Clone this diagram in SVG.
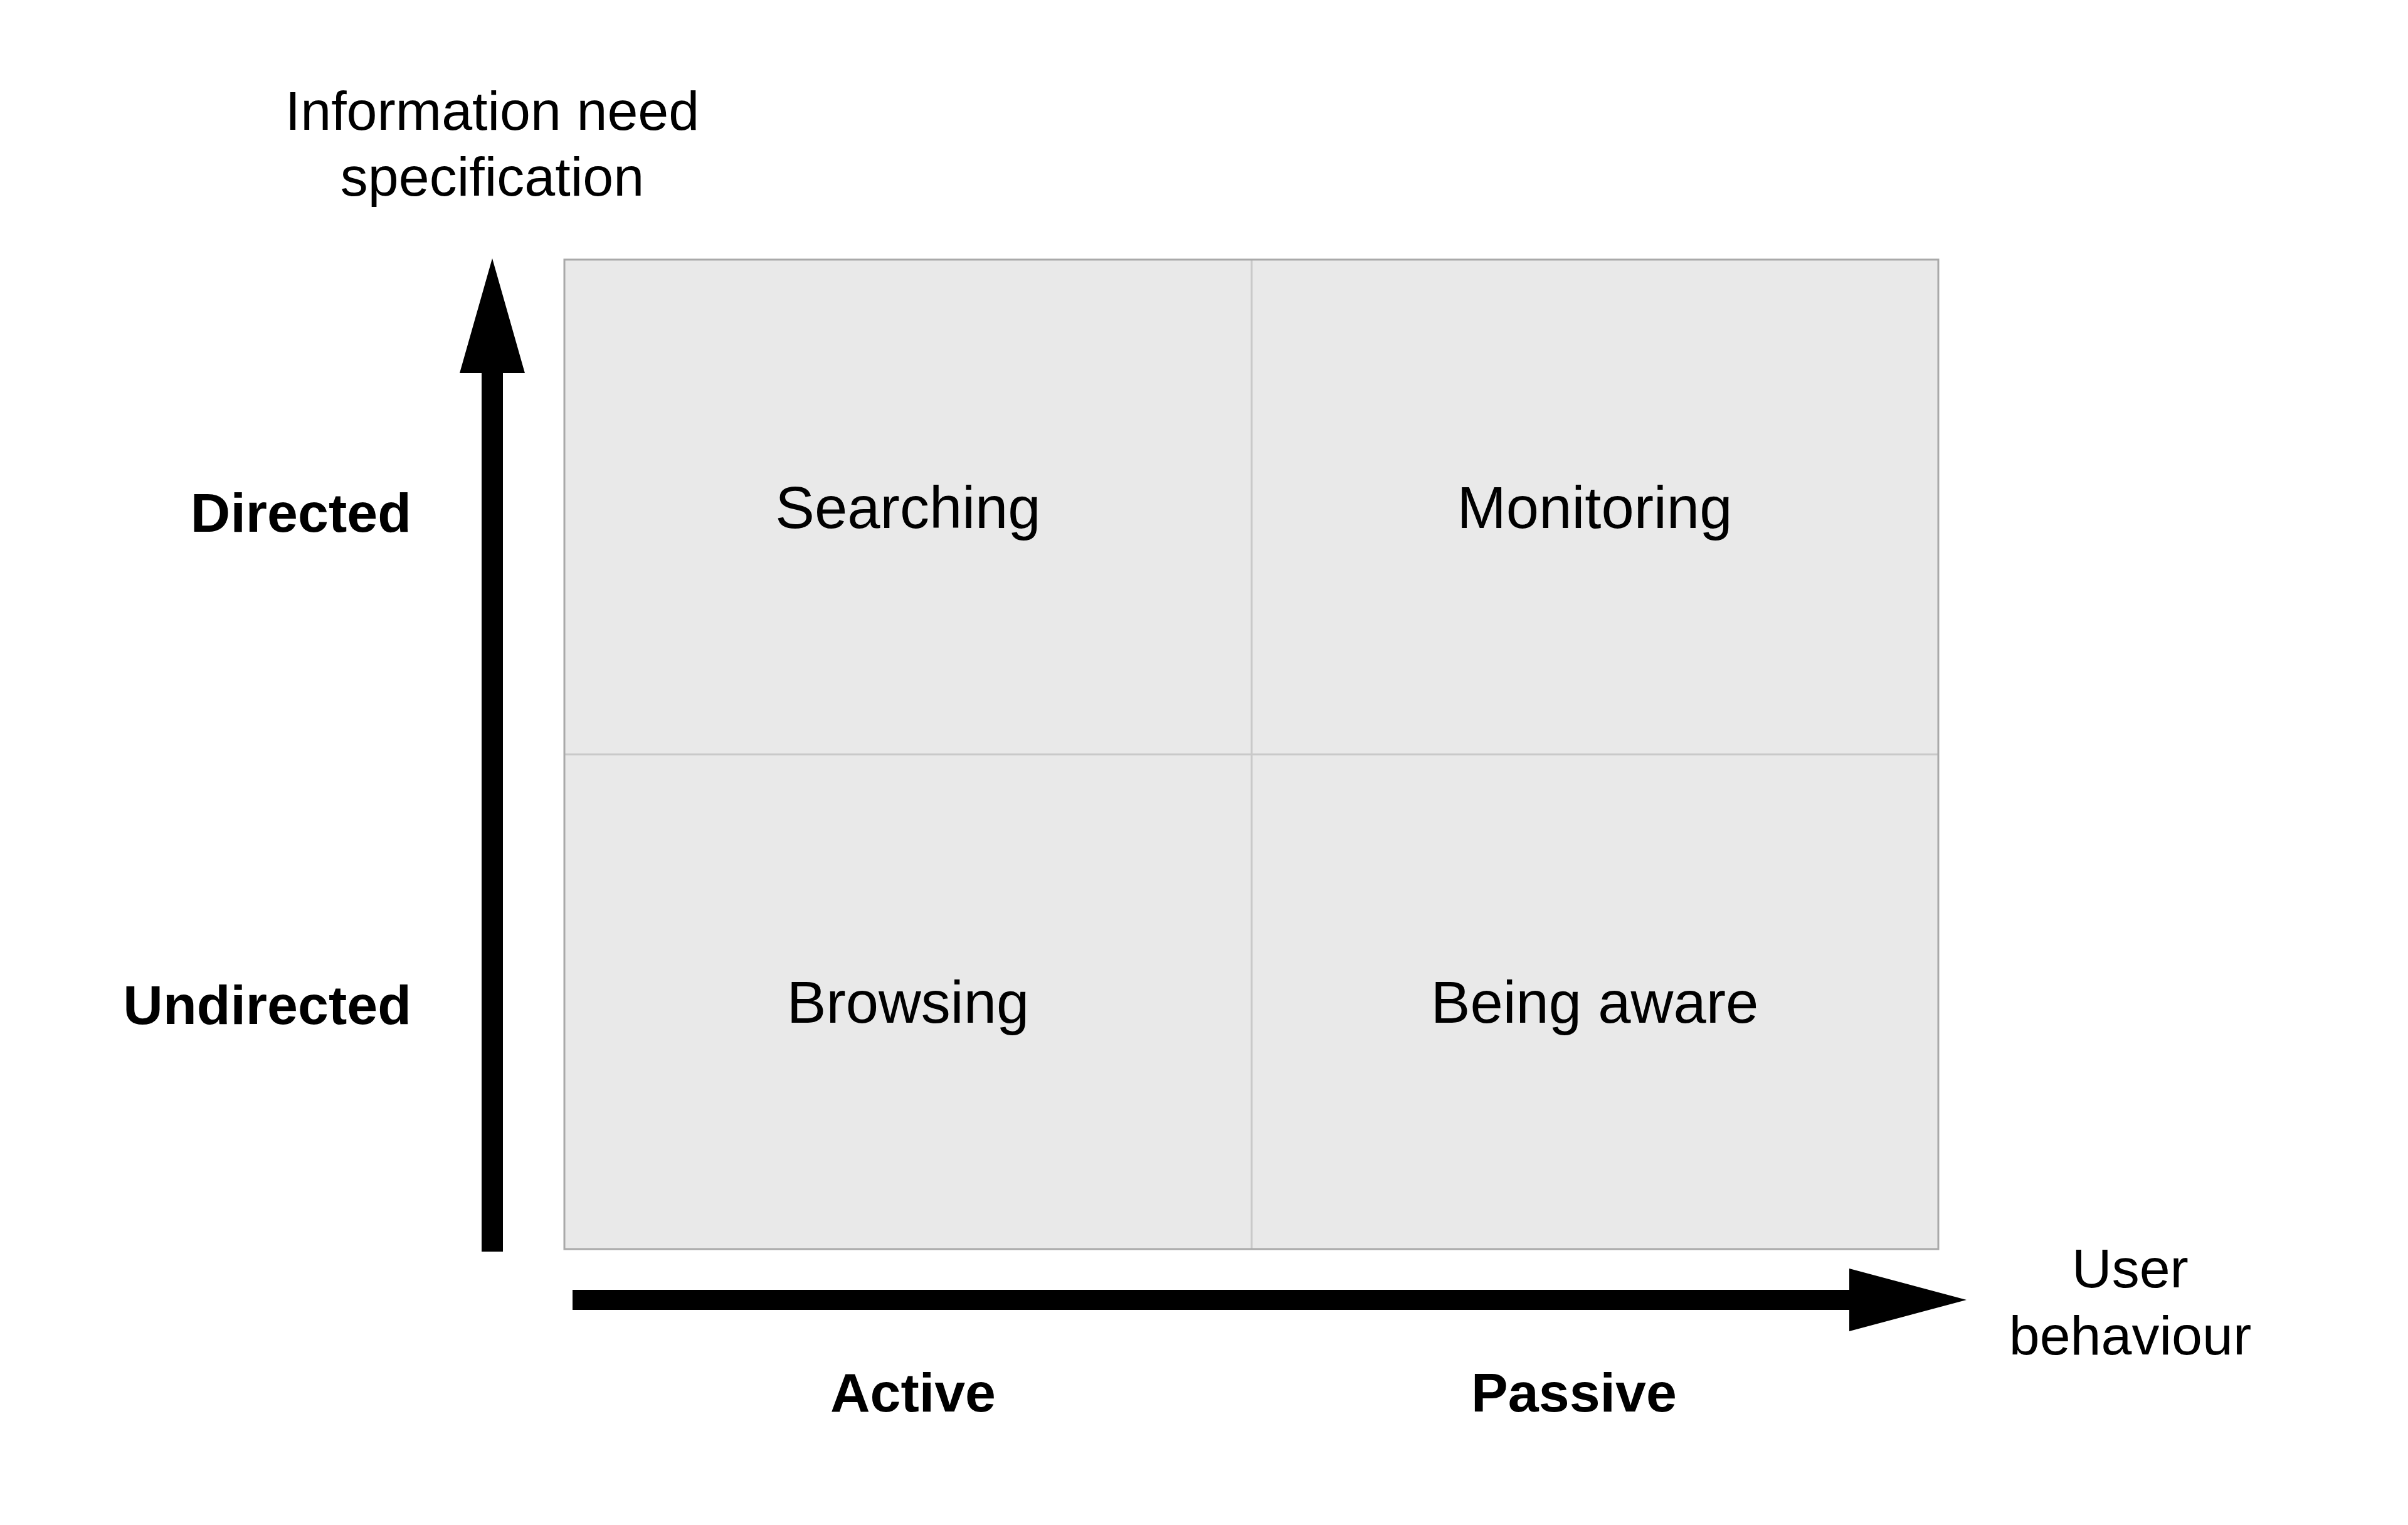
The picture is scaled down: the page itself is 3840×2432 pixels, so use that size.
<svg xmlns="http://www.w3.org/2000/svg" width="3840" height="2432" viewBox="0 0 3840 2432">
<style>
text{font-family:"Liberation Sans",Arial,Helvetica,sans-serif;fill:#000}
.ax{font-size:88px}
.b{font-size:88px;font-weight:bold}
.q{font-size:94px;text-anchor:middle}
.cell{fill:#e9e9e9;stroke:none}
.grid{stroke:#c9c9c9;stroke-width:3;fill:none}
.arrow{fill:#000;stroke:none}
</style>
<rect width="3840" height="2432" fill="#fff"/>
<g id="quadrants">
<g id="searching"><rect class="cell" x="900" y="414" width="1096" height="789"/><text class="q" x="1448" y="842">Searching</text></g>
<g id="monitoring"><rect class="cell" x="1996" y="414" width="1095" height="789"/><text class="q" x="2543" y="842">Monitoring</text></g>
<g id="browsing"><rect class="cell" x="900" y="1203" width="1096" height="789"/><text class="q" x="1448" y="1631">Browsing</text></g>
<g id="being-aware"><rect class="cell" x="1996" y="1203" width="1095" height="789"/><text class="q" x="2543" y="1631">Being aware</text></g>
<line class="grid" x1="1996" y1="414" x2="1996" y2="1992"/>
<line class="grid" x1="900" y1="1203" x2="3091" y2="1203"/>
<rect x="900" y="414" width="2191" height="1578" fill="none" stroke="#a9a9a9" stroke-width="3"/>
</g>
<g id="connectors">
<polygon class="arrow" points="768,1996 768,595 733,595 785,412 837,595 802,595 802,1996"/>
<polygon class="arrow" points="913,2057 2949,2057 2949,2023 3136,2073 2949,2123 2949,2089 913,2089"/>
</g>
<g id="y-axis-label"><text class="ax" text-anchor="middle" x="785" y="207">Information need</text><text class="ax" text-anchor="middle" x="785" y="312">specification</text></g>
<g id="x-axis-label"><text class="ax" text-anchor="middle" x="3397" y="2053">User</text><text class="ax" text-anchor="middle" x="3397" y="2160">behaviour</text></g>
<g id="directed"><text class="b" text-anchor="end" x="656" y="848">Directed</text></g>
<g id="undirected"><text class="b" text-anchor="end" x="656" y="1633">Undirected</text></g>
<g id="active"><text class="b" text-anchor="middle" x="1456" y="2251">Active</text></g>
<g id="passive"><text class="b" text-anchor="middle" x="2510" y="2251">Passive</text></g>
</svg>
